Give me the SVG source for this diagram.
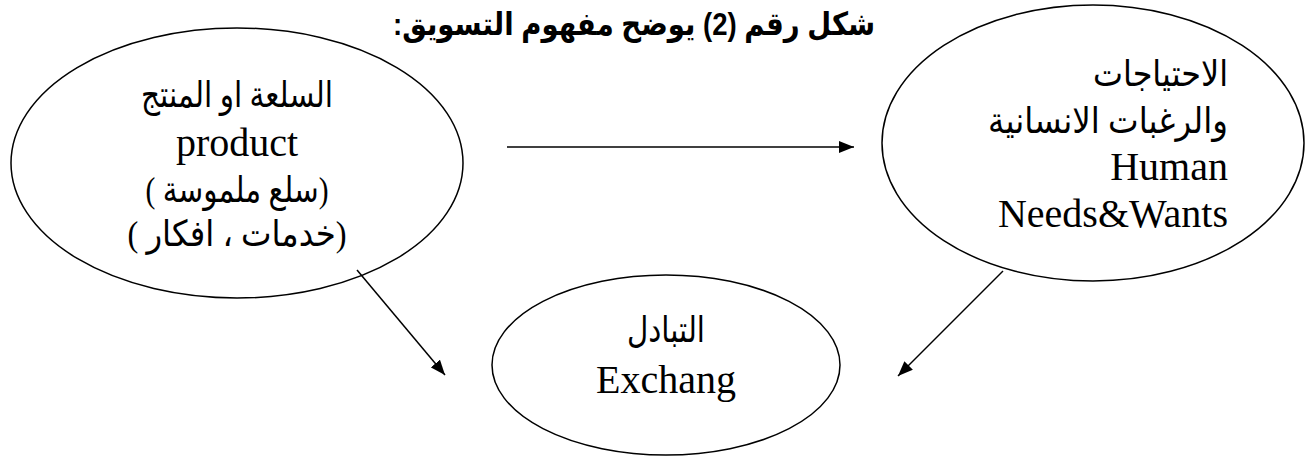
<svg xmlns="http://www.w3.org/2000/svg" width="1307" height="458" viewBox="0 0 1307 458">
  <style>
    .bg { fill: #ffffff; }
    .node ellipse { fill: none; stroke: #000000; stroke-width: 1.5; }
    .lbl { font-family: "Liberation Serif", "DejaVu Sans", serif; font-size: 40px; fill: #000000; }
    .ar { font-family: "Liberation Serif", "DejaVu Sans", sans-serif; font-size: 36px; fill: #000000; }
    .title { font-family: "Liberation Sans", "DejaVu Sans", sans-serif; font-size: 32px; font-weight: bold; fill: #000000; }
    .edge { stroke: #000000; stroke-width: 1.5; fill: none; marker-end: url(#head); }
  </style>
  <defs>
    <marker id="head" markerUnits="userSpaceOnUse" markerWidth="15" markerHeight="12" refX="15" refY="6" orient="auto">
      <path d="M0,0 L15,6 L0,12 Z" fill="#000000"/>
    </marker>
  </defs>

  <rect class="bg" x="0" y="0" width="1307" height="458"/>

  <!-- heading -->
  <text id="title" class="title" x="634" y="35" text-anchor="middle" direction="rtl" textLength="482" lengthAdjust="spacingAndGlyphs">شكل رقم (2) يوضح مفهوم التسويق:</text>

  <!-- product node -->
  <g id="node-product" class="node">
    <ellipse cx="237" cy="163" rx="226" ry="135"/>
    <text class="ar" x="237" y="107" text-anchor="middle" direction="rtl" textLength="192" lengthAdjust="spacingAndGlyphs">السلعة او المنتج</text>
    <text class="lbl" x="237" y="156" text-anchor="middle">product</text>
    <text class="ar" x="237" y="202" text-anchor="middle" direction="rtl" textLength="183" lengthAdjust="spacingAndGlyphs">(سلع ملموسة )</text>
    <text class="ar" x="237" y="246" text-anchor="middle" direction="rtl" textLength="219" lengthAdjust="spacingAndGlyphs">(خدمات ، افكار )</text>
  </g>

  <!-- needs and wants node -->
  <g id="node-needs" class="node">
    <ellipse cx="1093" cy="143" rx="211" ry="138"/>
    <text class="ar" x="1228" y="86" text-anchor="start" direction="rtl" textLength="135" lengthAdjust="spacingAndGlyphs">الاحتياجات</text>
    <text class="ar" x="1228" y="133" text-anchor="start" direction="rtl" textLength="240" lengthAdjust="spacingAndGlyphs">والرغبات الانسانية</text>
    <text class="lbl" x="1228" y="180" text-anchor="end">Human</text>
    <text class="lbl" x="1228" y="227" text-anchor="end">Needs&amp;Wants</text>
  </g>

  <!-- exchange node -->
  <g id="node-exchange" class="node">
    <ellipse cx="666" cy="365" rx="174" ry="90"/>
    <text class="ar" x="666" y="342" text-anchor="middle" direction="rtl" textLength="78" lengthAdjust="spacingAndGlyphs">التبادل</text>
    <text class="lbl" x="666" y="393" text-anchor="middle">Exchang</text>
  </g>

  <!-- connectors -->
  <g id="connectors">
    <line class="edge" x1="507" y1="147" x2="854" y2="147"/>
    <line class="edge" x1="357" y1="270" x2="445" y2="375"/>
    <line class="edge" x1="1003" y1="271" x2="898" y2="376"/>
  </g>
</svg>
